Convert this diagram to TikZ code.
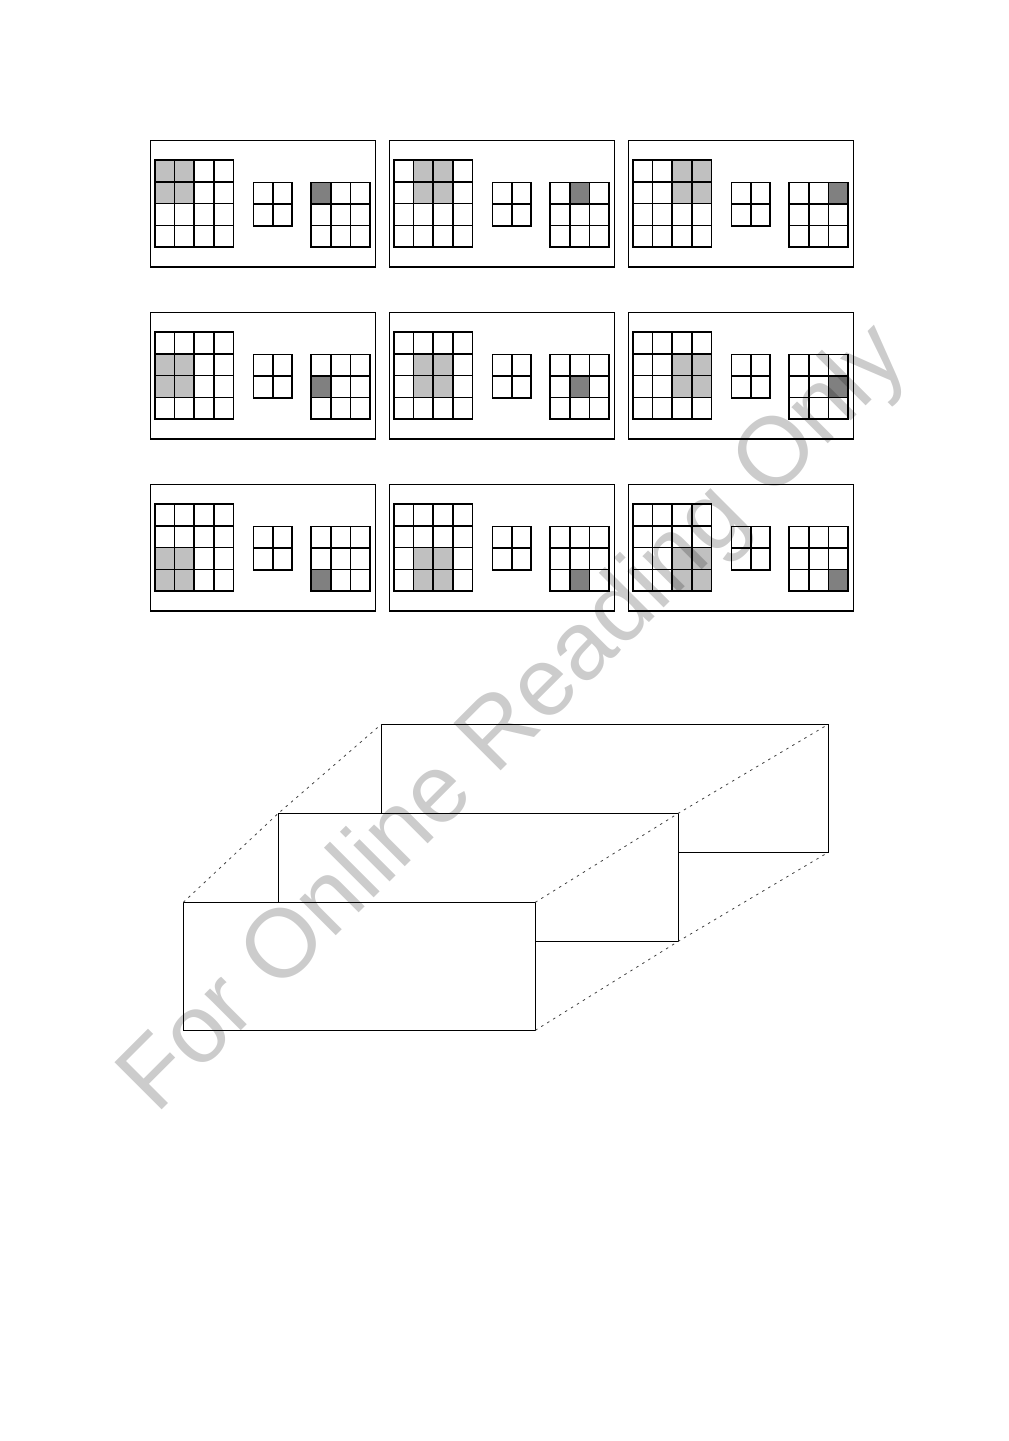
\documentclass[tikz,border=0pt]{standalone}
\usepackage{fontspec}
\usepackage{xcolor}
\newfontfamily\markfont{Liberation Sans}

\definecolor{lightcell}{HTML}{C0C0C0}
\definecolor{darkcell}{HTML}{808080}

\tikzset{
  panel/.style={draw, line width=1.4pt, inner sep=0pt, outer sep=0pt,
    minimum width=225pt, minimum height=126.5pt},
  cell/.style={draw, line width=1.6pt},
  sheet/.style={draw, fill=white, line width=1.4pt, inner sep=0pt, outer sep=0pt, anchor=north west},
  guide/.style={draw=black!75, line width=0.8pt, dash pattern=on 2.5pt off 4.5pt},
  watermark/.style={text=black, text opacity=0.2, anchor=base, rotate=45,
    font=\markfont\fontsize{97}{97}\selectfont}
}

\begin{document}
\begin{tikzpicture}[x=1pt, y=-1pt]
  \useasboundingbox (0,0) rectangle (1009,1441);

  % 3x3 panels: window (r,c) on the input, output cell (r,c)
  \foreach \r in {0,1,2} {
    \foreach \c in {0,1,2} {
      \pgfmathsetmacro\px{150.5+239*\c}
      \pgfmathsetmacro\py{140.5+172*\r}
      \node[panel] (p\r\c) at (\px+112.5,\py+63.25) {};
      % shaded window and output cell
      \fill[lightcell] (\px+4.5+19.6*\c,\py+19.5+21.8*\r) rectangle ++(39.2,43.6);
      \fill[darkcell] (\px+160.5+19.7*\c,\py+41.8+21.5*\r) rectangle ++(19.7,21.5);
      % input 4x4
      \foreach \i in {0,...,3}
        \foreach \j in {0,...,3}
          \draw[cell] (\px+4.5+19.6*\i,\py+19.5+21.8*\j) rectangle ++(19.6,21.8);
      % kernel 2x2
      \foreach \i in {0,1}
        \foreach \j in {0,1}
          \draw[cell] (\px+102.8+19.4*\i,\py+41.8+21.7*\j) rectangle ++(19.4,21.7);
      % output 3x3
      \foreach \i in {0,1,2}
        \foreach \j in {0,1,2}
          \draw[cell] (\px+160.5+19.7*\i,\py+41.8+21.5*\j) rectangle ++(19.7,21.5);
    }
  }

  % Stacked sheets
  \node[sheet, minimum width=447pt, minimum height=128pt] (back) at (381.3,724.3) {};
  \node[sheet, minimum width=400pt, minimum height=128pt] (mid) at (278.3,813.3) {};
  \node[sheet, minimum width=352pt, minimum height=128pt] (front) at (183.3,902.3) {};

  % Depth lines
  \draw[guide] (front.north west) -- (mid.north west) -- (back.north west);
  \draw[guide] (front.north east) -- (mid.north east) -- (back.north east);
  \draw[guide] (front.south east) -- (mid.south east) -- (back.south east);

  % Watermark
  \node[watermark] (mark) at (534,738) {For Online Reading Only};
\end{tikzpicture}
\end{document}
